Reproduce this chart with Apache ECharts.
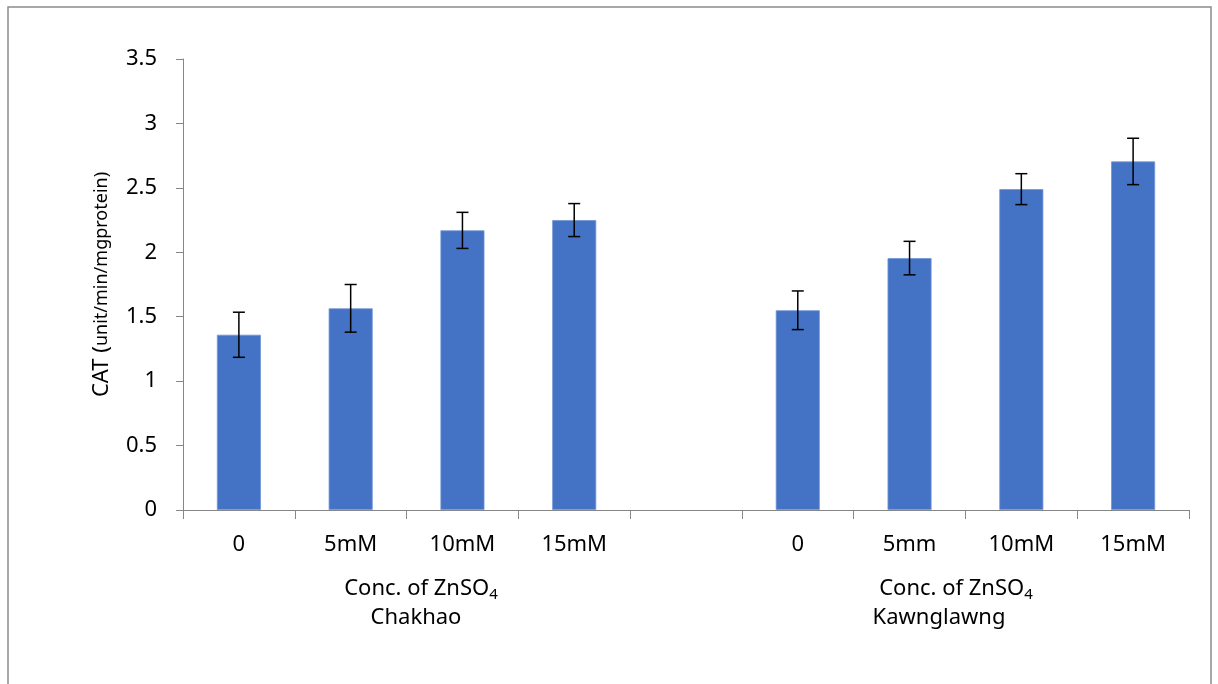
<!DOCTYPE html>
<html>
<head>
<meta charset="utf-8">
<script src="https://cdn.jsdelivr.net/npm/echarts@6/dist/echarts.min.js"></script>
<style>html,body{margin:0;padding:0;background:#fff}#c{width:1218px;height:684px}</style>
</head>
<body>
<div id="c"></div>
<script>
var categories = ['0', '5mM', '10mM', '15mM', '', '0', '5mm', '10mM', '15mM'];
var values = [1.36, 1.565, 2.17, 2.25, null, 1.55, 1.955, 2.49, 2.705];
var errors = [0.175, 0.185, 0.14, 0.128, null, 0.15, 0.13, 0.12, 0.18];
var yTicks = { min: 0, max: 3.5, interval: 0.5 };
var groupLabels = ['Chakhao', 'Kawnglawng'];
var yTitleMain = 'CAT (';
var yTitleUnit = 'unit/min/mgprotein)';

var FONT = "'Noto Sans', 'Open Sans', sans-serif";
var errData = [];
for (var i = 0; i < values.length; i++) {
  if (values[i] != null) errData.push([i, values[i], errors[i]]);
}

var chart = echarts.init(document.getElementById('c'));
var concRich = {
  a: { fontFamily: FONT, fontSize: 22, color: '#000' },
  s: { fontFamily: FONT, fontSize: 15, color: '#000', padding: [11, 0, 0, 0] }
};
chart.setOption({
  animation: false,
  backgroundColor: '#fff',
  grid: { left: 183, right: 29, top: 59, bottom: 174, containLabel: false },
  xAxis: {
    type: 'category',
    data: categories,
    boundaryGap: true,
    axisLine: { lineStyle: { color: '#868686', width: 1 } },
    axisTick: { show: true, alignWithLabel: false, length: 9, lineStyle: { color: '#868686' } },
    axisLabel: { fontFamily: FONT, fontSize: 22, color: '#000', margin: 24, interval: 0 }
  },
  yAxis: {
    type: 'value',
    min: yTicks.min, max: yTicks.max, interval: yTicks.interval,
    splitLine: { show: false },
    axisLine: { show: true, lineStyle: { color: '#868686', width: 1 } },
    axisTick: { show: true, length: 7, lineStyle: { color: '#868686' } },
    axisLabel: { fontFamily: FONT, fontSize: 22, color: '#000', margin: 26 },
    name: '{a|' + yTitleMain + '}{b|' + yTitleUnit + '}',
    nameLocation: 'middle',
    nameRotate: 90,
    nameGap: 70,
    nameTextStyle: {
      rich: {
        a: { fontFamily: FONT, fontSize: 22, color: '#000' },
        b: { fontFamily: FONT, fontSize: 18, color: '#000' }
      }
    }
  },
  series: [
    {
      type: 'bar',
      data: values,
      barWidth: 44,
      itemStyle: { color: '#4472C4', borderColor: '#7095d6', borderWidth: 0.8 }
    },
    {
      type: 'custom',
      data: errData,
      z: 10,
      renderItem: function (params, api) {
        var x = api.value(0), v = api.value(1), e = api.value(2);
        var hi = api.coord([x, v + e]);
        var lo = api.coord([x, v - e]);
        var w = 6;
        var st = { stroke: '#000', lineWidth: 1.5 };
        return {
          type: 'group',
          children: [
            { type: 'line', shape: { x1: hi[0], y1: hi[1], x2: lo[0], y2: lo[1] }, style: st },
            { type: 'line', shape: { x1: hi[0] - w, y1: hi[1], x2: hi[0] + w, y2: hi[1] }, style: st },
            { type: 'line', shape: { x1: lo[0] - w, y1: lo[1], x2: lo[0] + w, y2: lo[1] }, style: st }
          ]
        };
      }
    }
  ],
  graphic: [
    { type: 'rect', shape: { x: 8, y: 7, width: 1203, height: 700 }, style: { fill: 'none', stroke: '#8c8c8c', lineWidth: 1.5 }, silent: true },
    { type: 'text', x: 421, y: 589, style: { text: '{a|Conc. of ZnSO}{s|4}', rich: concRich, align: 'center', verticalAlign: 'middle' } },
    { type: 'text', x: 416, y: 618, style: { text: groupLabels[0], fontFamily: FONT, fontSize: 22, fill: '#000', align: 'center', verticalAlign: 'middle' } },
    { type: 'text', x: 956, y: 589, style: { text: '{a|Conc. of ZnSO}{s|4}', rich: concRich, align: 'center', verticalAlign: 'middle' } },
    { type: 'text', x: 939, y: 618, style: { text: groupLabels[1], fontFamily: FONT, fontSize: 22, fill: '#000', align: 'center', verticalAlign: 'middle' } }
  ]
});
</script>
</body>
</html>
